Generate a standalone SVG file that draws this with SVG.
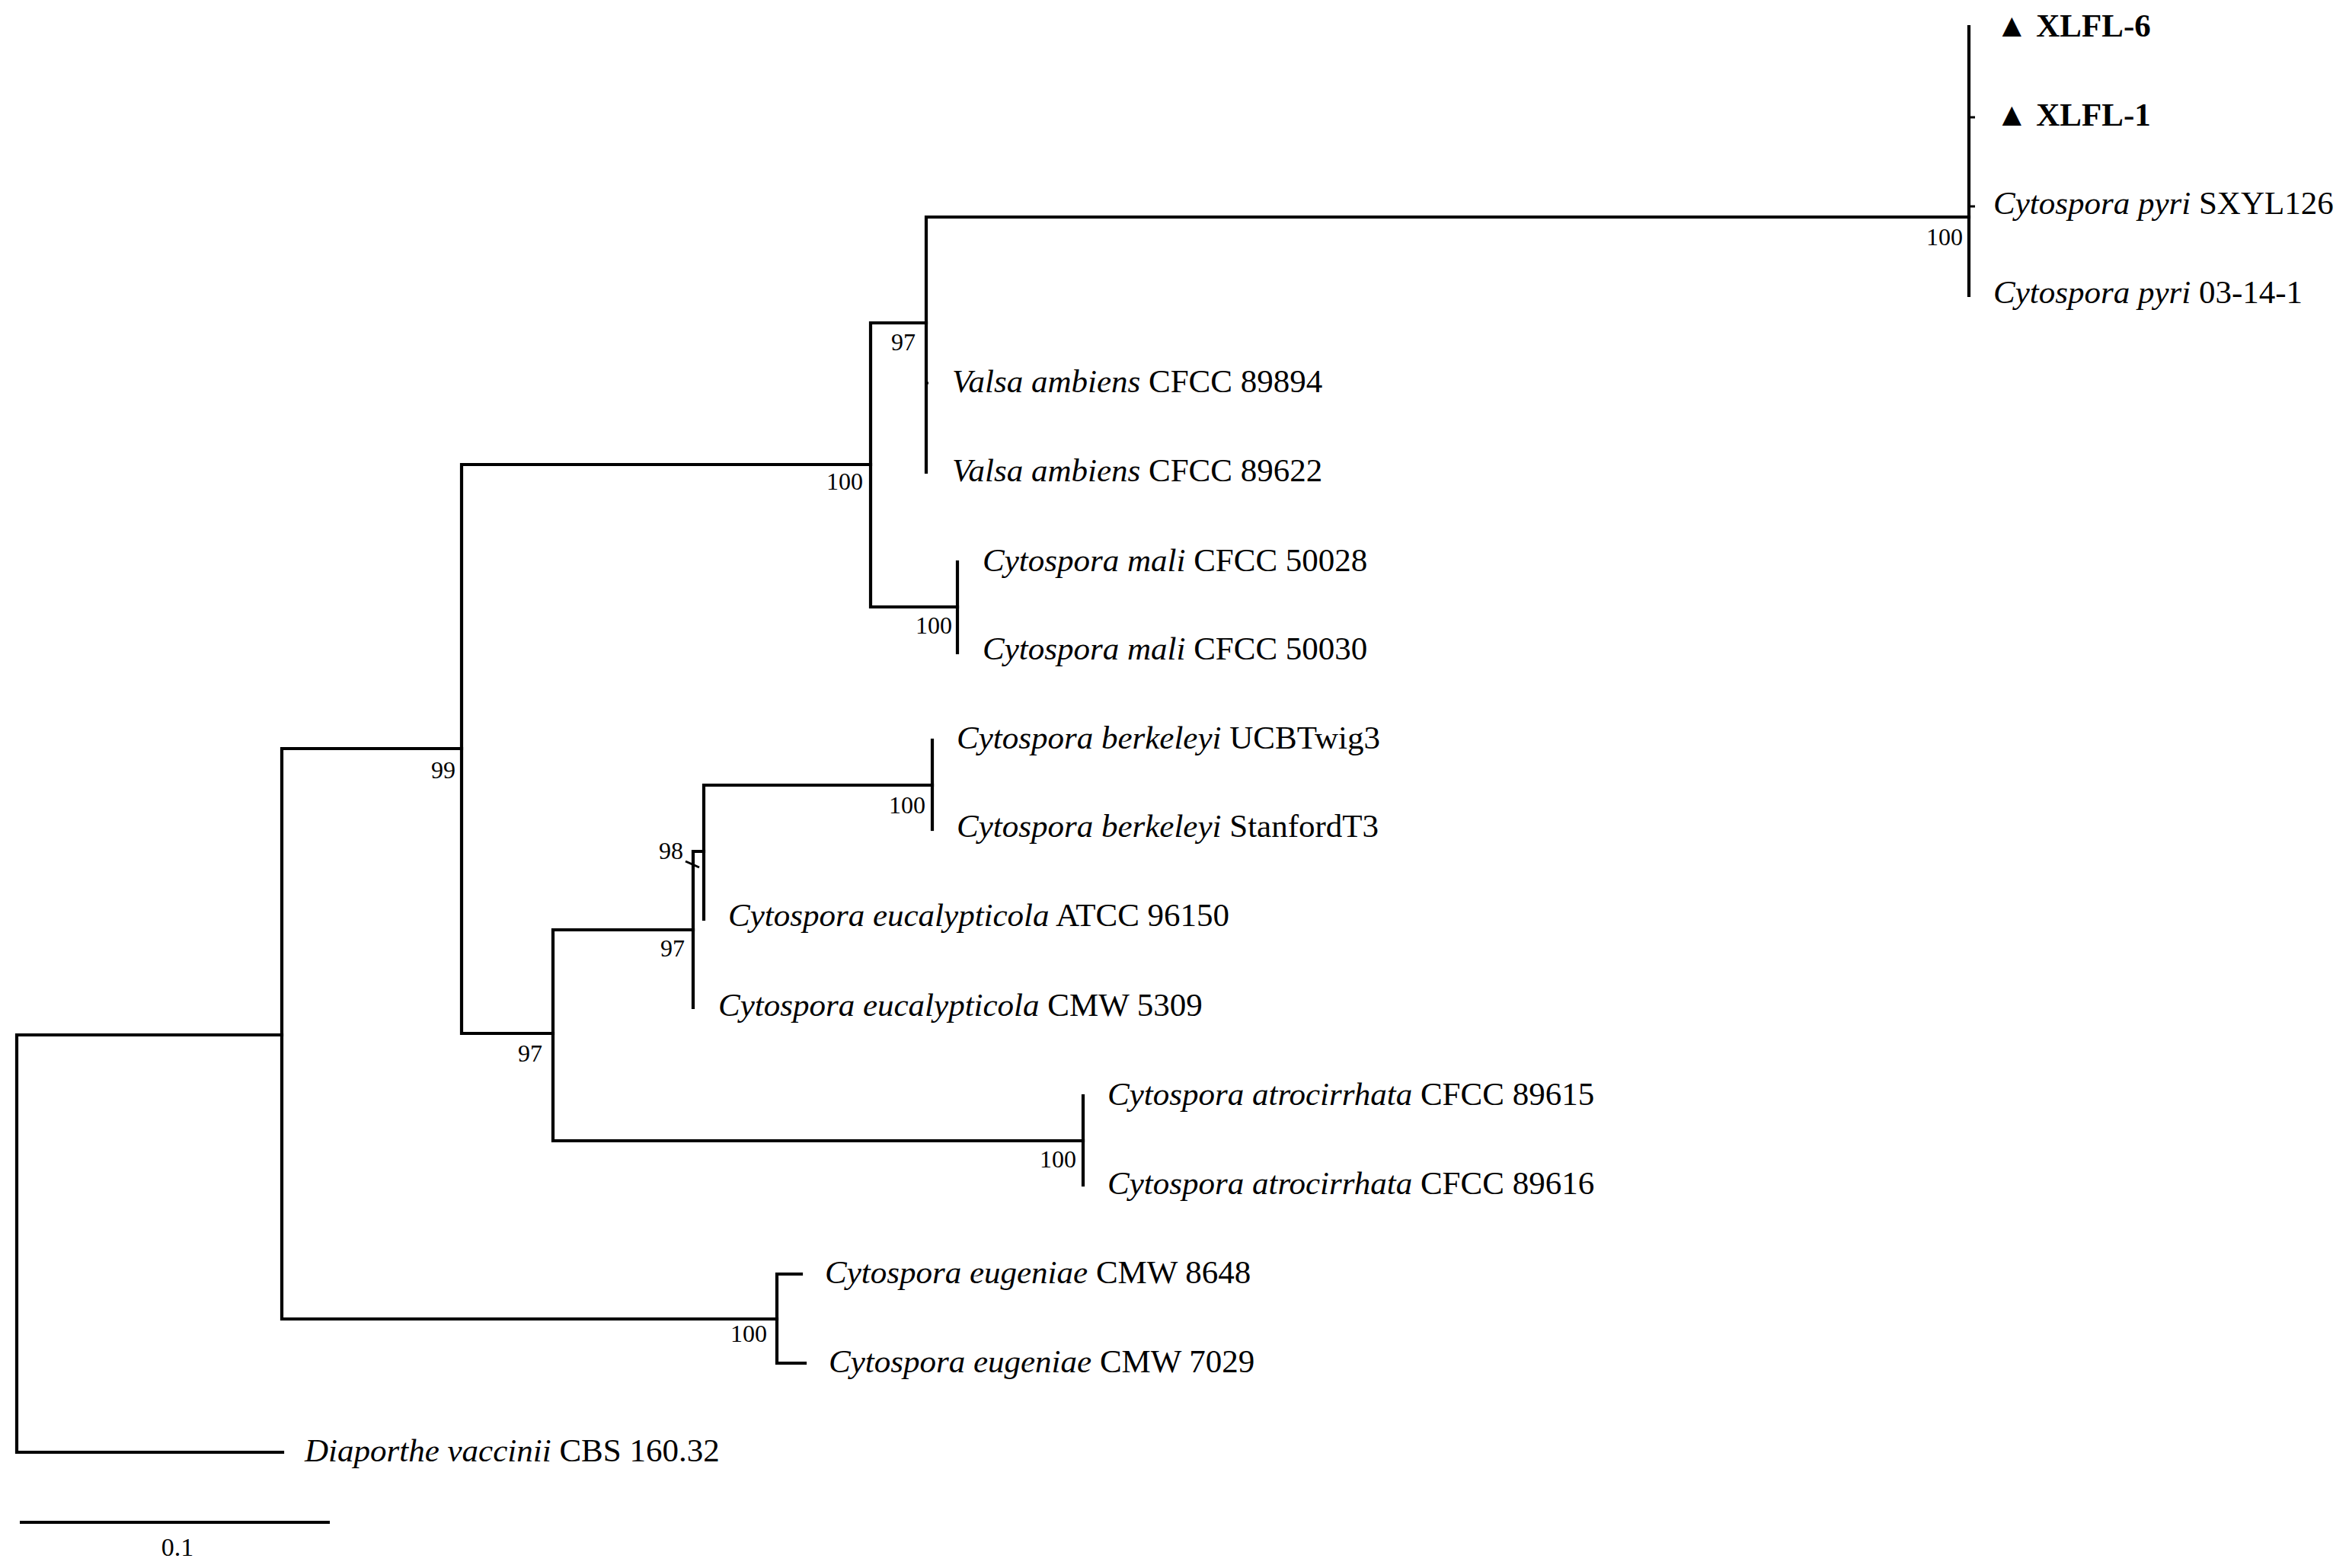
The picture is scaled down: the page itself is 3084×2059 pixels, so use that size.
<svg xmlns="http://www.w3.org/2000/svg" width="3084" height="2059" viewBox="0 0 3084 2059">
<style>
.br{fill:none;stroke:#000;stroke-width:4.2;stroke-linecap:square;stroke-linejoin:miter}
.tk{fill:none;stroke:#000;stroke-width:3}
.lb{font-family:"Liberation Serif","Times New Roman",serif;font-size:43px;fill:#000}
.bd{font-weight:bold}
.bs{font-family:"Liberation Serif","Times New Roman",serif;font-size:32px;fill:#000;text-anchor:end}
.sc{font-family:"Liberation Serif","Times New Roman",serif;font-size:34px;fill:#000;text-anchor:middle}
</style>
<rect width="3084" height="2059" fill="#fff"/>
<g id="connectors">
<path class="br" d="M22,1359 V1907 M22,1359 H370 M22,1907 H371"/>
<path class="br" d="M370,983 V1732 M370,983 H606 M370,1732 H1020"/>
<path class="br" d="M606,610 V1357 M606,610 H1143 M606,1357 H726"/>
<path class="br" d="M1143,424 V797 M1143,424 H1216 M1143,797 H1257"/>
<path class="br" d="M1216,285 V620 M1216,285 H2585"/>
<path class="br" d="M2585,35 V388"/>
<path class="tk" d="M2585,154 H2593 M2585,271 H2593 M1216,503 H1219"/>
<path class="br" d="M1257,738 V857"/>
<path class="br" d="M726,1221 V1498 M726,1221 H910 M726,1498 H1422"/>
<path class="br" d="M1422,1439 V1556"/>
<path class="br" d="M910,1118 V1323 M910,1118 H924"/>
<path class="br" d="M924,1031 V1207 M924,1031 H1224"/>
<path class="br" d="M1224,972 V1089"/>
<path class="br" d="M1020,1673 V1790 M1020,1673 H1052 M1020,1790 H1057"/>
<path class="tk" d="M900,1131 L918,1139"/>
</g>
<g id="support">
<text class="bs" x="2577" y="322">100</text>
<text class="bs" x="1202" y="460">97</text>
<text class="bs" x="1133" y="643">100</text>
<text class="bs" x="1250" y="832">100</text>
<text class="bs" x="598" y="1022">99</text>
<text class="bs" x="1215" y="1068">100</text>
<text class="bs" x="897" y="1128">98</text>
<text class="bs" x="899" y="1256">97</text>
<text class="bs" x="712" y="1394">97</text>
<text class="bs" x="1413" y="1533">100</text>
<text class="bs" x="1007" y="1762">100</text>
</g>
<g id="leaf-XLFL-6"><text class="lb bd" x="2620" y="48">▲ XLFL-6</text></g>
<g id="leaf-XLFL-1"><text class="lb bd" x="2620" y="165">▲ XLFL-1</text></g>
<g id="leaf-pyri-SXYL126"><text class="lb" x="2617" y="281"><tspan font-style="italic">Cytospora pyri</tspan> SXYL126</text></g>
<g id="leaf-pyri-03-14-1"><text class="lb" x="2617" y="398"><tspan font-style="italic">Cytospora pyri</tspan> 03-14-1</text></g>
<g id="leaf-valsa-89894"><text class="lb" x="1250" y="515"><tspan font-style="italic">Valsa ambiens</tspan> CFCC 89894</text></g>
<g id="leaf-valsa-89622"><text class="lb" x="1250" y="632"><tspan font-style="italic">Valsa ambiens</tspan> CFCC 89622</text></g>
<g id="leaf-mali-50028"><text class="lb" x="1290" y="750"><tspan font-style="italic">Cytospora mali</tspan> CFCC 50028</text></g>
<g id="leaf-mali-50030"><text class="lb" x="1290" y="866"><tspan font-style="italic">Cytospora mali</tspan> CFCC 50030</text></g>
<g id="leaf-berkeleyi-UCBTwig3"><text class="lb" x="1256" y="983"><tspan font-style="italic">Cytospora berkeleyi</tspan> UCBTwig3</text></g>
<g id="leaf-berkeleyi-StanfordT3"><text class="lb" x="1256" y="1099"><tspan font-style="italic">Cytospora berkeleyi</tspan> StanfordT3</text></g>
<g id="leaf-eucalypticola-96150"><text class="lb" x="956" y="1216"><tspan font-style="italic">Cytospora eucalypticola</tspan> ATCC 96150</text></g>
<g id="leaf-eucalypticola-5309"><text class="lb" x="943" y="1334"><tspan font-style="italic">Cytospora eucalypticola</tspan> CMW 5309</text></g>
<g id="leaf-atro-89615"><text class="lb" x="1454" y="1451"><tspan font-style="italic">Cytospora atrocirrhata</tspan> CFCC 89615</text></g>
<g id="leaf-atro-89616"><text class="lb" x="1454" y="1568"><tspan font-style="italic">Cytospora atrocirrhata</tspan> CFCC 89616</text></g>
<g id="leaf-eugeniae-8648"><text class="lb" x="1083" y="1685"><tspan font-style="italic">Cytospora eugeniae</tspan> CMW 8648</text></g>
<g id="leaf-eugeniae-7029"><text class="lb" x="1088" y="1802"><tspan font-style="italic">Cytospora eugeniae</tspan> CMW 7029</text></g>
<g id="leaf-diaporthe"><text class="lb" x="400" y="1919"><tspan font-style="italic">Diaporthe vaccinii</tspan> CBS 160.32</text></g>
<g id="scale-bar">
<path class="br" d="M26,1999 H433" style="stroke-linecap:butt"/>
<text class="sc" x="233" y="2043">0.1</text>
</g>
</svg>
